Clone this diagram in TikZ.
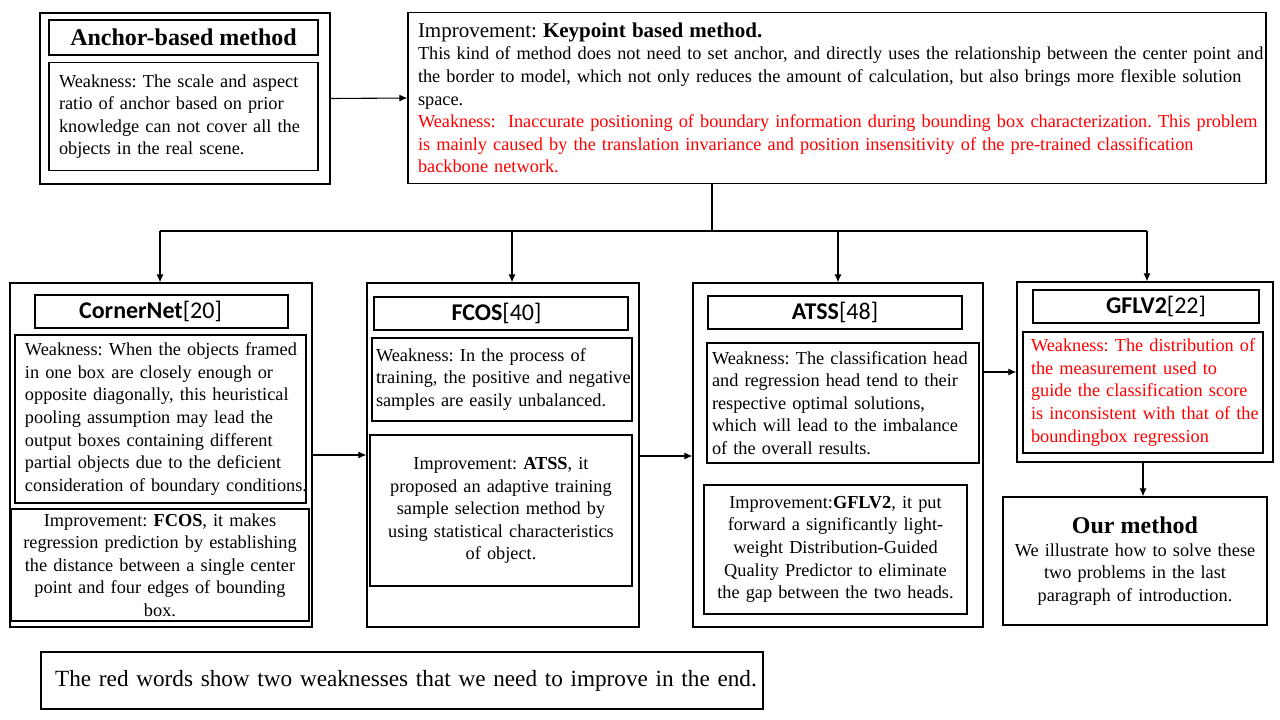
\documentclass[tikz,border=0pt]{standalone}
\usepackage{fontspec}
\setmainfont{Liberation Serif}
\newfontfamily\calfont{Carlito}
\usetikzlibrary{arrows.meta}
\definecolor{weakred}{HTML}{FF0000}
\frenchspacing

\begin{document}
\begin{tikzpicture}[x=1pt,y=-1pt,
 font=\fontsize{18.3}{22.6}\selectfont,
 >={Latex[length=8pt,width=7pt]},
 frame/.style={draw,line width=1.2pt,inner sep=0pt},
 headbox/.style={frame,minimum height=33pt,font=\calfont\fontsize{24}{28}\selectfont},
 leftbox/.style={frame,align=left,inner xsep=-6pt,
   execute at begin node={\leftskip=#1\relax}},
 midbox/.style={frame,align=center},
 link/.style={line width=1.1pt}]
\path[use as bounding box] (0,0) rectangle (1280,720);
% top row
\node[frame,minimum width=290pt,minimum height=171pt] (anchorout) at (185,98.5) {};
\node[frame,minimum width=269pt,minimum height=35pt,
 font=\bfseries\fontsize{24}{28}\selectfont] (anchorhead) at (183.5,37.5) {Anchor-based method};
\node[leftbox=16pt,minimum width=269pt,minimum height=108pt,text width=281pt]
 (anchorweak) at (183.5,116.5) {Weakness: The scale and aspect\\ratio of anchor based on prior\\knowledge can not cover all the\\objects in the real scene.};
\node[leftbox=16pt,minimum width=858pt,minimum height=171pt,text width=870pt] (keypoint) at (837,98)
 {{\fontsize{21}{22.6}\selectfont Improvement: \textbf{Keypoint based method.}}\\
 This kind of method does not need to set anchor, and directly uses the relationship between the center point and\\
 the border to model, which not only reduces the amount of calculation, but also brings more flexible solution\\
 space.\\
 \color{weakred}Weakness:\ \ Inaccurate positioning of boundary information during bounding box characterization. This problem\\
 is mainly caused by the translation invariance and position insensitivity of the pre-trained classification\\
 backbone network.};
\draw[link,->] (anchorout.east) -- (keypoint.west);

% CornerNet
\node[frame,minimum width=302pt,minimum height=344pt] (cornerout) at (161,455) {};
\node[headbox,minimum width=253pt] (cornerhead) at (161.5,311.5) {\textbf{CornerNet}[20]\hspace*{22pt}};
\node[leftbox=16pt,minimum width=291pt,minimum height=168pt,text width=303pt]
 (cornerweak) at (160.5,419) {Weakness: When the objects framed\\in one box are closely enough or\\opposite diagonally, this heuristical\\pooling assumption may lead the\\output boxes containing different\\partial objects due to the deficient\\consideration of boundary conditions.};
\node[midbox,minimum width=298pt,minimum height=112pt,text width=298pt]
 (cornerimp) at (160,565) {Improvement: \textbf{FCOS}, it makes\\regression prediction by establishing\\the distance between a single center\\point and four edges of bounding\\box.};

% FCOS
\node[frame,minimum width=272pt,minimum height=344pt] (fcosout) at (503,455) {};
\node[headbox,minimum width=254pt] (fcoshead) at (501,313.5) {\textbf{FCOS}[40]\hspace*{9pt}};
\node[leftbox=10pt,minimum width=260pt,minimum height=83pt,text width=272pt]
 (fcosweak) at (502,379.5) {Weakness: In the process of\\training, the positive and negative\\samples are easily unbalanced.};
\node[midbox,minimum width=262pt,minimum height=151pt,text width=262pt]
 (fcosimp) at (501,510.5) {Improvement: \textbf{ATSS}, it\\proposed an adaptive training\\sample selection method by\\using statistical characteristics\\of object.};

% ATSS
\node[frame,minimum width=290pt,minimum height=344pt] (atssout) at (838,455) {};
\node[headbox,minimum width=254pt] (atsshead) at (835,312.5) {\textbf{ATSS}[48]};
\node[leftbox=11pt,minimum width=272pt,minimum height=120pt,text width=284pt]
 (atssweak) at (843,403) {Weakness: The classification head\\and regression head tend to their\\respective optimal solutions,\\which will lead to the imbalance\\of the overall results.};
\node[midbox,minimum width=263pt,minimum height=129pt,text width=263pt]
 (atssimp) at (835.5,549.5) {Improvement:\textbf{GFLV2}, it put\\forward a significantly light-\\weight Distribution-Guided\\Quality Predictor to eliminate\\the gap between the two heads.};

% GFLV2
\node[frame,minimum width=256pt,minimum height=180pt] (gflout) at (1145,372) {};
\node[headbox,minimum width=226pt] (gflhead) at (1146,306.5) {\hspace*{20pt}\textbf{GFLV2}[22]};
\node[leftbox=14pt,minimum width=240pt,minimum height=121pt,text width=252pt,
 text=weakred] (gflweak) at (1143,392.5) {Weakness: The distribution of\\the measurement used to\\guide the classification score\\is inconsistent with that of the\\boundingbox regression};

% our method
\node[midbox,minimum width=264pt,minimum height=128pt,text width=264pt]
 (ourmethod) at (1135,561) {{\bfseries\fontsize{24}{26}\selectfont Our method}\\We illustrate how to solve these\\two problems in the last\\paragraph of introduction.};

% note
\node[midbox,minimum width=722pt,minimum height=57pt,text width=722pt,
 font=\fontsize{23.2}{26}\selectfont] (note) at (402,680.5)
 {\hspace*{8pt}The red words show two weaknesses that we need to improve in the end.};

% tree below the keypoint box
\coordinate (split) at (712,231);
\coordinate (tocorner) at (160,231);
\coordinate (tofcos) at (512,231);
\coordinate (toatss) at (838,231);
\coordinate (togfl) at (1147,231);
\draw[link] (keypoint.south -| split) -- (split);
\draw[link] (tocorner) -- (togfl);
\draw[link,->] (tocorner) -- (tocorner |- cornerout.north);
\draw[link,->] (tofcos) -- (tofcos |- fcosout.north);
\draw[link,->] (toatss) -- (toatss |- atssout.north);
\draw[link,->] (togfl) -- (togfl |- gflout.north);

% side links
\coordinate (rowa) at (0,455);
\coordinate (rowb) at (0,456);
\coordinate (rowc) at (0,372);
\coordinate (downc) at (1143,0);
\draw[link,->] (cornerout.east |- rowa) -- (fcosout.west |- rowa);
\draw[link,->] (fcosout.east |- rowb) -- (atssout.west |- rowb);
\draw[link,->] (atssout.east |- rowc) -- (gflout.west |- rowc);
\draw[link,->] (gflout.south -| downc) -- (ourmethod.north -| downc);
\end{tikzpicture}
\end{document}
